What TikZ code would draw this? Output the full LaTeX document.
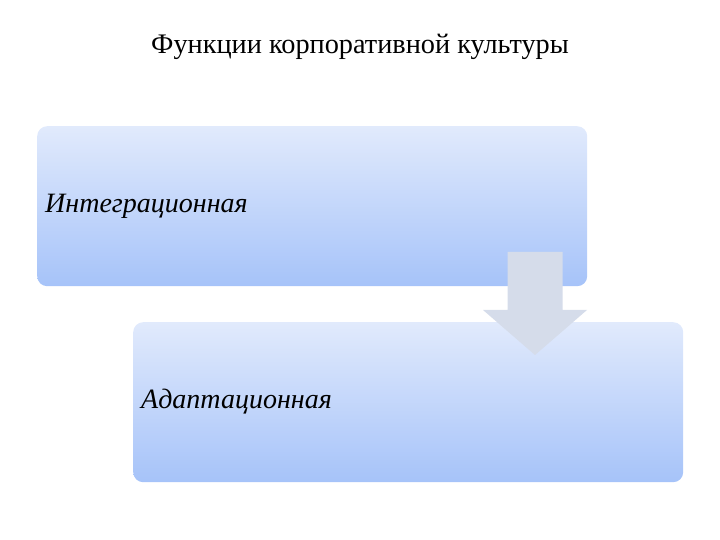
\documentclass[tikz,border=0pt]{standalone}
\usepackage{fontspec}
\setmainfont{Liberation Serif}
\usetikzlibrary{calc}
\definecolor{boxtop}{HTML}{E1EAFC}
\definecolor{boxbottom}{HTML}{A6C3F9}
\definecolor{arrowgray}{HTML}{D5DCEA}
\tikzset{
  funcbox/.style={anchor=north west, rounded corners=10pt, top color=boxtop,
    bottom color=boxbottom, minimum width=550pt, minimum height=160pt,
    inner xsep=8pt, text width=534pt, align=left, text depth=6pt,
    font=\fontsize{28}{32}\selectfont\itshape},
  downarrow/.style={fill=arrowgray, draw=none}
}
\begin{document}
\begin{tikzpicture}[x=1pt,y=1pt]
\useasboundingbox (0,0) rectangle (720,540);
\node (title) at (360,493) {\fontsize{28.3}{32}\selectfont Функции корпоративной культуры};
\node [funcbox] (integ) at (37,414) {Интеграционная};
\node [funcbox] (adapt) at (133,218) {Адаптационная};
% arrow between the two boxes
\coordinate (tip) at ($(adapt.north west)+(402,-33)$);
\fill [downarrow] ($(tip)+(-27.5,103)$) -- ($(tip)+(27.5,103)$) -- ($(tip)+(27.5,45)$)
  -- ($(tip)+(52,45)$) -- (tip) -- ($(tip)+(-52,45)$) -- ($(tip)+(-27.5,45)$) -- cycle;
\end{tikzpicture}
\end{document}
